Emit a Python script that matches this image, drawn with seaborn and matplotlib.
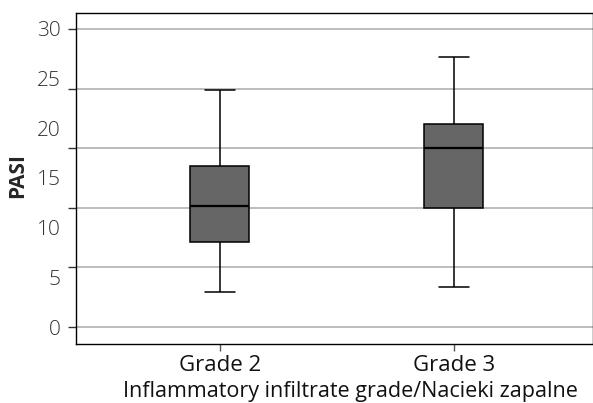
import matplotlib
matplotlib.use("Agg")
import matplotlib.pyplot as plt
import pandas as pd
import seaborn as sns

# Valores (mín, Q1, mediana, Q3, máx)
grades = ["Grade 2", "Grade 3"]
pasi_grade2 = [3.5, 8.6, 12.2, 16.2, 23.9]
pasi_grade3 = [4.0, 12.0, 18.0, 20.4, 27.2]
label_ticks = [0, 5, 10, 15, 20, 25, 30]
grid_ticks = [0, 6, 12, 18, 24, 30]

df = pd.DataFrame({
    "grade": [grades[0]] * len(pasi_grade2) + [grades[1]] * len(pasi_grade3),
    "PASI": pasi_grade2 + pasi_grade3,
})

sns.set_style("white")
plt.rcParams["font.family"] = ["Open Sans", "DejaVu Sans"]

fig = plt.figure(figsize=(5.93, 4.03), dpi=100)
ax = fig.add_axes([0.1282, 0.1464, 0.8718, 0.8213])

sns.boxplot(data=df, x="grade", y="PASI", order=grades, ax=ax,
            color="#666666", width=0.252, whis=(0, 100), saturation=1,
            boxprops=dict(edgecolor="black", linewidth=1.1),
            medianprops=dict(color="black", linewidth=1.6),
            whiskerprops=dict(color="black", linewidth=1.1),
            capprops=dict(color="black", linewidth=1.1))

ax.set_xlim(-0.615, 1.594)
ax.set_ylim(-1.71, 31.6)

# linhas de grade e marcas nos múltiplos de 6, rótulos nos múltiplos de 5
ax.yaxis.remove_overlapping_locs = False
ax.set_yticks(grid_ticks)
ax.set_yticklabels([])
ax.set_yticks(label_ticks, minor=True)
ax.set_yticklabels([str(t) for t in label_ticks], minor=True, fontsize=15,
                   color="#333333", fontweight="light")
ax.tick_params(axis="y", which="major", length=6, width=1, color="#333333",
               left=True)
ax.tick_params(axis="y", which="minor", length=0, pad=11, left=True)
ax.yaxis.grid(True, which="major", color="#b0b0b0", linewidth=1.2)
ax.set_axisbelow(True)

ax.tick_params(axis="x", length=5, width=1, color="#555555", bottom=True,
               labelsize=16, pad=3, labelcolor="#111111")

for s in ax.spines.values():
    s.set_color("black")
    s.set_linewidth(1.0)

ax.set_xlabel("Inflammatory infiltrate grade/Nacieki zapalne", fontsize=15.5,
              color="#111111", va="top")
ax.xaxis.set_label_coords(0.53, -0.112)
ax.set_ylabel("PASI", fontsize=15, fontweight="bold", va="center")
ax.yaxis.set_label_coords(-0.112, 0.51)

fig.savefig("out.png", dpi=100)
